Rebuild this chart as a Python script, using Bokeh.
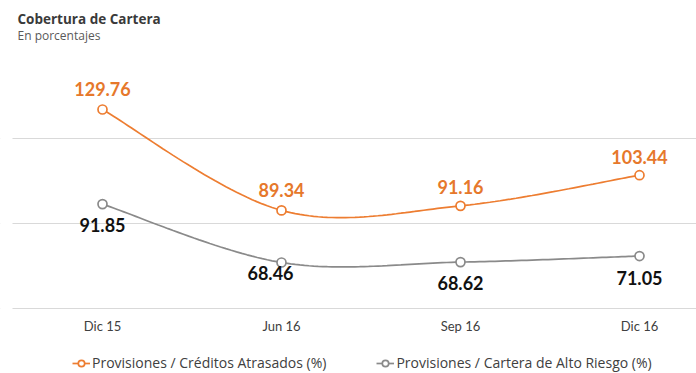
import numpy as np
from bokeh.plotting import figure
from bokeh.models import (Range1d, FixedTicker, Label, Legend, LegendItem,
                          ColumnDataSource, BoxAnnotation)
from bokeh.core.properties import value
from bokeh.embed import file_html
from bokeh.resources import INLINE

# ---- data ----
categories = ["Dic 15", "Jun 16", "Sep 16", "Dic 16"]
creditos_atrasados = [129.76, 89.34, 91.16, 103.44]
alto_riesgo = [91.85, 68.46, 68.62, 71.05]
series_names = ["Provisiones / Créditos Atrasados (%)",
                "Provisiones / Cartera de Alto Riesgo (%)"]
grid_values = [50, 84, 118]
title_text = "Cobertura de Cartera"
subtitle_text = "En porcentajes"

# ---- style / layout ----
W, H = 696, 373
FONT = "Lato"
FONT2 = "Open Sans"
ORANGE = "#ED7D31"
ORANGE_TXT = "#E6782B"
GRAY = "#8A8A8A"
GRID = "#D9D9D9"
TXT = "#404040"
X0_PX, DX_PX = 102.0, 179.0       # pixel of first category, pixels per category
PLOT_LEFT_PX = 12.0
Y_RANGE = (23.99, 173.43)         # value range covering the canvas height


def smooth(ys, n=40):
    """Catmull-Rom (Excel-like) smoothing drawn as cubic Bezier segments."""
    ys = np.asarray(ys, float)
    xs = np.arange(len(ys), dtype=float)
    px = np.concatenate([[xs[0]], xs, [xs[-1]]])
    py = np.concatenate([[ys[0]], ys, [ys[-1]]])
    t = np.linspace(0, 1, n)
    ox, oy = [], []
    for i in range(len(ys) - 1):
        p0x, p1x, p2x, p3x = px[i:i + 4]
        p0y, p1y, p2y, p3y = py[i:i + 4]
        c1x, c1y = p1x + (p2x - p0x) / 6, p1y + (p2y - p0y) / 6
        c2x, c2y = p2x - (p3x - p1x) / 6, p2y - (p3y - p1y) / 6
        bx = (1 - t) ** 3 * p1x + 3 * (1 - t) ** 2 * t * c1x + 3 * (1 - t) * t ** 2 * c2x + t ** 3 * p2x
        by = (1 - t) ** 3 * p1y + 3 * (1 - t) ** 2 * t * c1y + 3 * (1 - t) * t ** 2 * c2y + t ** 3 * p2y
        ox.extend(bx.tolist())
        oy.extend(by.tolist())
    return ox, oy


idx = list(range(len(categories)))

p = figure(width=W, height=H, output_backend="svg", toolbar_location=None,
           x_range=Range1d(-X0_PX / DX_PX, (W - X0_PX) / DX_PX),
           y_range=Range1d(*Y_RANGE),
           x_axis_location=None, y_axis_location=None,
           min_border=0, min_border_left=0, min_border_right=0,
           min_border_top=0, min_border_bottom=0, outline_line_color=None,
           background_fill_color="white", border_fill_color="white")

p.xgrid.visible = False
p.ygrid.ticker = FixedTicker(ticks=grid_values)
p.ygrid.grid_line_color = GRID
p.ygrid.grid_line_width = 1

# white mask so the grid starts at the plot's left edge
p.add_layout(BoxAnnotation(right=(PLOT_LEFT_PX - X0_PX) / DX_PX, fill_color="white",
                           fill_alpha=1, line_alpha=0, level="glyph"))

# category labels (under the base line of the grid)
p.text(x=idx, y=[grid_values[0]] * len(idx), text=categories, y_offset=17,
       text_font=value(FONT), text_font_size="13px", text_color=TXT,
       text_align="center", text_baseline="middle")

# lines
sx1, sy1 = smooth(creditos_atrasados)
sx2, sy2 = smooth(alto_riesgo)
r1 = p.line(sx1, sy1, line_color=ORANGE, line_width=1.7)
r2 = p.line(sx2, sy2, line_color=GRAY, line_width=1.7)
m1 = p.scatter(idx, creditos_atrasados, marker="circle", size=9, line_color=ORANGE,
               fill_color="white", line_width=1.7)
m2 = p.scatter(idx, alto_riesgo, marker="circle", size=9, line_color=GRAY,
               fill_color="white", line_width=1.7)

# data labels
src1 = ColumnDataSource(dict(x=idx, y=creditos_atrasados,
                             t=[f"{v:.2f}" for v in creditos_atrasados],
                             xo=[0, 0, 0, 0], yo=[-20, -20, -19, -18]))
src2 = ColumnDataSource(dict(x=idx, y=alto_riesgo,
                             t=[f"{v:.2f}" for v in alto_riesgo],
                             xo=[0, -11, 0, 0], yo=[21, 10, 21, 22]))
p.text(x="x", y="y", text="t", x_offset="xo", y_offset="yo", source=src1,
       text_font=value(FONT), text_font_style="bold", text_font_size="18px",
       text_color=ORANGE_TXT, text_align="center", text_baseline="alphabetic")
p.text(x="x", y="y", text="t", x_offset="xo", y_offset="yo", source=src2,
       text_font=value(FONT), text_font_style="bold", text_font_size="18px",
       text_color="#111111", text_align="center", text_baseline="alphabetic")

# titles
p.add_layout(Label(x=17, y=H - 18, x_units="screen", y_units="screen", text=title_text,
                   text_font=FONT2, text_font_style="bold", text_font_size="13.5px",
                   text_color="#3A3A3A", text_baseline="middle"))
p.add_layout(Label(x=17, y=H - 35, x_units="screen", y_units="screen", text=subtitle_text,
                   text_font=FONT2, text_font_size="12px",
                   text_color="#595959", text_baseline="middle"))

legend = Legend(items=[LegendItem(label=series_names[0], renderers=[r1, m1]),
                       LegendItem(label=series_names[1], renderers=[r2, m2])],
                orientation="horizontal", location=(72, 1),
                glyph_width=18, glyph_height=16, label_standoff=2, spacing=50,
                padding=0, margin=0, border_line_color=None,
                background_fill_alpha=0, label_text_font=FONT2,
                label_text_font_size="14px", label_text_color=TXT, label_height=16)
p.add_layout(legend)

open("out.html", "w").write(file_html(p, INLINE))
